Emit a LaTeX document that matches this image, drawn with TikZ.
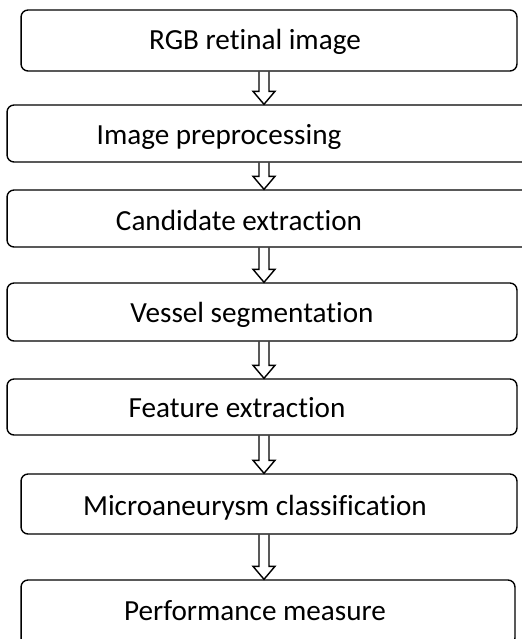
\documentclass[tikz,border=0pt]{standalone}
\usepackage{fontspec}
\setmainfont{Carlito}[Ligatures=NoCommon]
\usetikzlibrary{calc}

\tikzset{
	stage/.style={draw=black, line width=0.8pt, rounded corners=0.14cm, inner sep=0pt},
	stagetext/.style={anchor=base, inner sep=0pt, font=\fontsize{16.6}{19}\selectfont},
	hollowline/.style={draw=black, line width=0.8pt, line join=miter}
}

% hollow block arrow from the bottom of #1 to the top of #2
\newcommand{\hollowdown}[2]{%
	\coordinate (from) at (#1.south -| axis);
	\coordinate (to) at (#2.north -| axis);
	\draw[hollowline] ($(from)+(-5,0)$) -- ($(to)+(-5,-13)$) -- ($(to)+(-11,-13)$) -- (to)
		-- ($(to)+(11,-13)$) -- ($(to)+(5,-13)$) -- ($(from)+(5,0)$);
}

\begin{document}
\begin{tikzpicture}[x=0.02cm, y=-0.02cm]
	\useasboundingbox (0,0) rectangle (521,639);
	\coordinate (axis) at (264,0);

	%boxes
	\node[stage, minimum width=9.92cm, minimum height=1.22cm] (rgb) at (269,40.5) {};
	\node[stage, minimum width=10.6cm, minimum height=1.14cm] (prep) at (272,133.5) {};
	\node[stage, minimum width=10.6cm, minimum height=1.14cm] (cand) at (272,218.5) {};
	\node[stage, minimum width=10.2cm, minimum height=1.16cm] (vessel) at (262,312) {};
	\node[stage, minimum width=10.2cm, minimum height=1.12cm] (feat) at (262,407) {};
	\node[stage, minimum width=9.92cm, minimum height=1.2cm] (micro) at (269,504) {};
	\node[stage, minimum width=9.88cm, minimum height=1.3cm] (perf) at (268,612.5) {};

	%labels
	\node[stagetext] (rgbtext) at (255,50) {RGB retinal image};
	\node[stagetext] (preptext) at (219,144) {Image preprocessing};
	\node[stagetext] (candtext) at (239,230) {Candidate extraction};
	\node[stagetext] (vesseltext) at (252,322) {Vessel segmentation};
	\node[stagetext] (feattext) at (237,417) {Feature extraction};
	\node[stagetext] (microtext) at (255,515) {Microaneurysm classification};
	\node[stagetext] (perftext) at (255,620) {Performance measure};

	%arrows
	\hollowdown{rgb}{prep}
	\hollowdown{prep}{cand}
	\hollowdown{cand}{vessel}
	\hollowdown{vessel}{feat}
	\hollowdown{feat}{micro}
	\hollowdown{micro}{perf}
\end{tikzpicture}
\end{document}
